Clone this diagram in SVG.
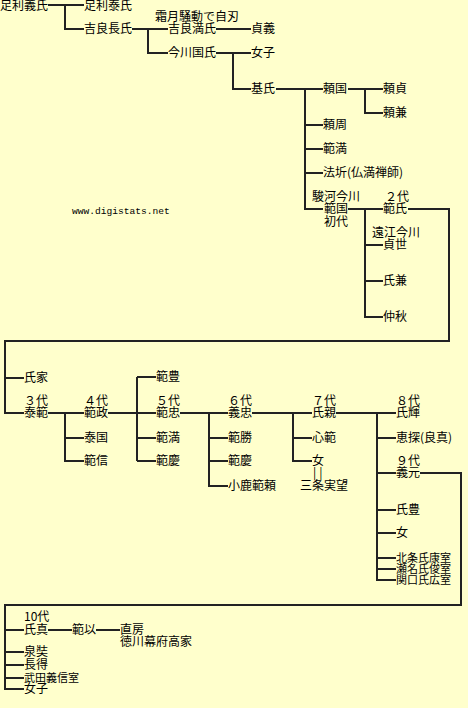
<svg xmlns="http://www.w3.org/2000/svg" width="468" height="708" viewBox="0 0 468 708">
<style>
.bg{fill:#FFFFCC}
text{font-family:"Noto Sans CJK JP","Noto Sans CJK SC",sans-serif;font-size:12px;fill:#000}
text.mono{font-family:"Liberation Mono",monospace;font-size:9.6px}
text.tight{font-size:11px}
.c path{fill:none;stroke:#222;stroke-width:2}
</style>
<rect class="bg" width="468" height="708"/>
<g class="c" id="connectors">
<path d="M48 5H84M65 5V29H84"/>
<path d="M132 29H168M148 29V53H168"/>
<path d="M216 29H251M216 53H251M233 53V89H251"/>
<path d="M276 89H323M305 89V209H323M305 125H323M305 149H323M305 173H323"/>
<path d="M348 89H383M365 89V113H383"/>
<path d="M348 209H383M365 209V317H383M365 245H383M365 281H383"/>
<path d="M408 209H449V341H5V413H24M5 378H24"/>
<path d="M48 413H84M65 413V461H84M65 438H84"/>
<path d="M108 413H156M137 377V461M137 377H156M137 438H156M137 461H156"/>
<path d="M180 413H228M209 413V486H228M209 438H228M209 461H228"/>
<path d="M252 413H312M293 413V461H312M293 438H312"/>
<path d="M336 413H396M377 413V580H396M377 438H396M377 473H396M377 510H396M377 533H396M377 558H396M377 569H396"/>
<path d="M420 473H461V605H5V689H24M5 630H24M5 652H24M5 665H24M5 678H24"/>
<path d="M48 630H72M96 630H120"/>
</g>
<g id="n1"><text x="0" y="10">足利義氏</text></g>
<g id="n2"><text x="84" y="10">足利泰氏</text></g>
<g id="n3"><text x="84" y="33">吉良長氏</text></g>
<g id="n4"><text x="155" y="21">霜月騒動で自刃</text><text x="168" y="33">吉良満氏</text></g>
<g id="n5"><text x="168" y="57">今川国氏</text></g>
<g id="n6"><text x="251" y="33">貞義</text></g>
<g id="n7"><text x="251" y="57">女子</text></g>
<g id="n8"><text x="251" y="93">基氏</text></g>
<g id="n9"><text x="323" y="93">頼国</text></g>
<g id="n10"><text x="383" y="93">頼貞</text></g>
<g id="n11"><text x="383" y="117">頼兼</text></g>
<g id="n12"><text x="323" y="129">頼周</text></g>
<g id="n13"><text x="323" y="153">範満</text></g>
<g id="n14"><text x="323" y="177">法圻(仏満禅師)</text></g>
<g id="n15"><text x="312" y="201">駿河今川</text><text x="324" y="213">範国</text><text x="324" y="226">初代</text></g>
<g id="n16"><text x="385" y="201">２代</text><text x="383" y="213">範氏</text></g>
<g id="n17"><text x="372" y="237">遠江今川</text><text x="383" y="249">貞世</text></g>
<g id="n18"><text x="383" y="285">氏兼</text></g>
<g id="n19"><text x="383" y="321">仲秋</text></g>
<g id="watermark"><text class="mono" x="72" y="214">www.digistats.net</text></g>
<g id="n20"><text x="24" y="382">氏家</text></g>
<g id="n21"><text x="24" y="405">３代</text><text x="24" y="417">泰範</text></g>
<g id="n22"><text x="84" y="405">４代</text><text x="84" y="417">範政</text></g>
<g id="n23"><text x="84" y="442">泰国</text></g>
<g id="n24"><text x="84" y="465">範信</text></g>
<g id="n25"><text x="156" y="381">範豊</text></g>
<g id="n26"><text x="156" y="405">５代</text><text x="156" y="417">範忠</text></g>
<g id="n27"><text x="156" y="442">範満</text></g>
<g id="n28"><text x="156" y="465">範慶</text></g>
<g id="n29"><text x="228" y="405">６代</text><text x="228" y="417">義忠</text></g>
<g id="n30"><text x="228" y="442">範勝</text></g>
<g id="n31"><text x="228" y="465">範慶</text></g>
<g id="n32"><text x="228" y="490">小鹿範頼</text></g>
<g id="n33"><text x="312" y="405">７代</text><text x="312" y="417">氏親</text></g>
<g id="n34"><text x="312" y="442">心範</text></g>
<g id="n35"><text x="312" y="465">女</text><text x="313" y="477" letter-spacing="3">||</text><text x="300" y="490">三条実望</text></g>
<g id="n36"><text x="396" y="405">８代</text><text x="396" y="417">氏輝</text></g>
<g id="n37"><text x="396" y="442">恵探(良真)</text></g>
<g id="n38"><text x="396" y="465">９代</text><text x="396" y="477">義元</text></g>
<g id="n39"><text x="396" y="514">氏豊</text></g>
<g id="n40"><text x="396" y="537">女</text></g>
<g id="n41"><text class="tight" x="396" y="562">北条氏康室</text></g>
<g id="n42"><text class="tight" x="396" y="573">瀬名氏俊室</text></g>
<g id="n43"><text class="tight" x="396" y="584">関口氏広室</text></g>
<g id="n44"><text x="24" y="621">10代</text><text x="24" y="634">氏真</text></g>
<g id="n45"><text x="72" y="634">範以</text></g>
<g id="n46"><text x="120" y="634">直房</text><text x="120" y="646">徳川幕府高家</text></g>
<g id="n47"><text x="24" y="656">泉奘</text></g>
<g id="n48"><text x="24" y="669">長得</text></g>
<g id="n49"><text class="tight" x="24" y="682">武田義信室</text></g>
<g id="n50"><text x="24" y="693">女子</text></g>
</svg>
